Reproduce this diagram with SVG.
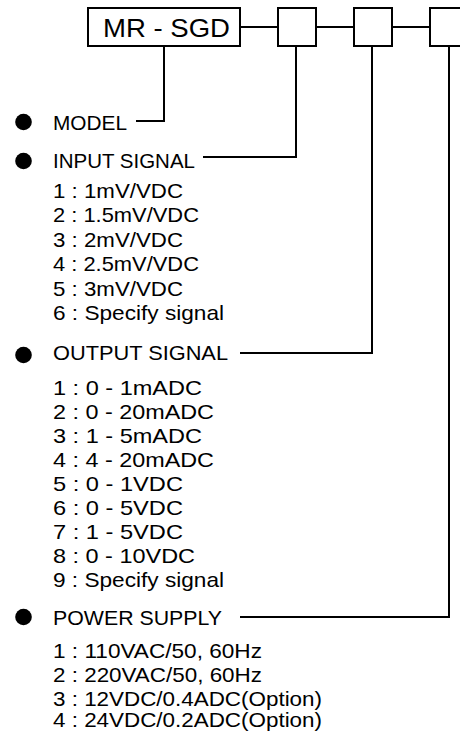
<svg xmlns="http://www.w3.org/2000/svg" width="460" height="731" viewBox="0 0 460 731">
<style>
.box{fill:#fff;stroke:#000;stroke-width:2}
.ln{fill:none;stroke:#000;stroke-width:2}
.t{font-family:"Liberation Sans",Arial,sans-serif;font-size:21px;fill:#000}
.i{font-family:"Liberation Sans",Arial,sans-serif;font-size:21px;fill:#000}
.b{fill:#000}
</style>
<rect width="460" height="731" fill="#fff"/>
<g id="connectors">
<path class="ln" d="M240 27H278M316 27H354M392 27H430"/>
<path class="ln" d="M164 46V121H136"/>
<path class="ln" d="M296 46V157H203"/>
<path class="ln" d="M372 46V353H240"/>
<path class="ln" d="M449 46V617H240"/>
</g>
<g id="model-box">
<rect class="box" x="88" y="8" width="152" height="38"/>
<text class="t" x="103" y="37" style="font-size:25px" textLength="127" lengthAdjust="spacingAndGlyphs">MR - SGD</text>
</g>
<g id="input-box"><rect class="box" x="278" y="8" width="38" height="38"/></g>
<g id="output-box"><rect class="box" x="354" y="8" width="38" height="38"/></g>
<g id="power-box"><rect class="box" x="430" y="8" width="38" height="38"/></g>
<g id="model">
<circle class="b" cx="23.5" cy="122" r="8.3"/>
<text class="t" x="53" y="130" textLength="74" lengthAdjust="spacingAndGlyphs">MODEL</text>
</g>
<g id="input-signal">
<circle class="b" cx="23.5" cy="161" r="8.3"/>
<text class="t" x="53" y="168" textLength="142" lengthAdjust="spacingAndGlyphs">INPUT SIGNAL</text>
<text class="i" x="53" y="198" textLength="130" lengthAdjust="spacingAndGlyphs">1 : 1mV/VDC</text>
<text class="i" x="53" y="222.4" textLength="146" lengthAdjust="spacingAndGlyphs">2 : 1.5mV/VDC</text>
<text class="i" x="53" y="246.8" textLength="130" lengthAdjust="spacingAndGlyphs">3 : 2mV/VDC</text>
<text class="i" x="53" y="271.2" textLength="146" lengthAdjust="spacingAndGlyphs">4 : 2.5mV/VDC</text>
<text class="i" x="53" y="295.6" textLength="130" lengthAdjust="spacingAndGlyphs">5 : 3mV/VDC</text>
<text class="i" x="53" y="320" textLength="171" lengthAdjust="spacingAndGlyphs">6 : Specify signal</text>
</g>
<g id="output-signal">
<circle class="b" cx="23.5" cy="355" r="8.3"/>
<text class="t" x="53" y="360" textLength="175" lengthAdjust="spacingAndGlyphs">OUTPUT SIGNAL</text>
<text class="i" x="53" y="395" textLength="149" lengthAdjust="spacingAndGlyphs">1 : 0 - 1mADC</text>
<text class="i" x="53" y="419" textLength="161" lengthAdjust="spacingAndGlyphs">2 : 0 - 20mADC</text>
<text class="i" x="53" y="443" textLength="149" lengthAdjust="spacingAndGlyphs">3 : 1 - 5mADC</text>
<text class="i" x="53" y="467" textLength="161" lengthAdjust="spacingAndGlyphs">4 : 4 - 20mADC</text>
<text class="i" x="53" y="491" textLength="130" lengthAdjust="spacingAndGlyphs">5 : 0 - 1VDC</text>
<text class="i" x="53" y="515" textLength="130" lengthAdjust="spacingAndGlyphs">6 : 0 - 5VDC</text>
<text class="i" x="53" y="539" textLength="130" lengthAdjust="spacingAndGlyphs">7 : 1 - 5VDC</text>
<text class="i" x="53" y="563" textLength="142" lengthAdjust="spacingAndGlyphs">8 : 0 - 10VDC</text>
<text class="i" x="53" y="587" textLength="171" lengthAdjust="spacingAndGlyphs">9 : Specify signal</text>
</g>
<g id="power-supply">
<circle class="b" cx="23.5" cy="617" r="8.3"/>
<text class="t" x="53" y="625" textLength="169" lengthAdjust="spacingAndGlyphs">POWER SUPPLY</text>
<text class="i" x="53" y="658" textLength="209" lengthAdjust="spacingAndGlyphs">1 : 110VAC/50, 60Hz</text>
<text class="i" x="53" y="682" textLength="209" lengthAdjust="spacingAndGlyphs">2 : 220VAC/50, 60Hz</text>
<text class="i" x="53" y="705.5" textLength="269" lengthAdjust="spacingAndGlyphs">3 : 12VDC/0.4ADC(Option)</text>
<text class="i" x="53" y="726.5" textLength="269" lengthAdjust="spacingAndGlyphs">4 : 24VDC/0.2ADC(Option)</text>
</g>
</svg>
